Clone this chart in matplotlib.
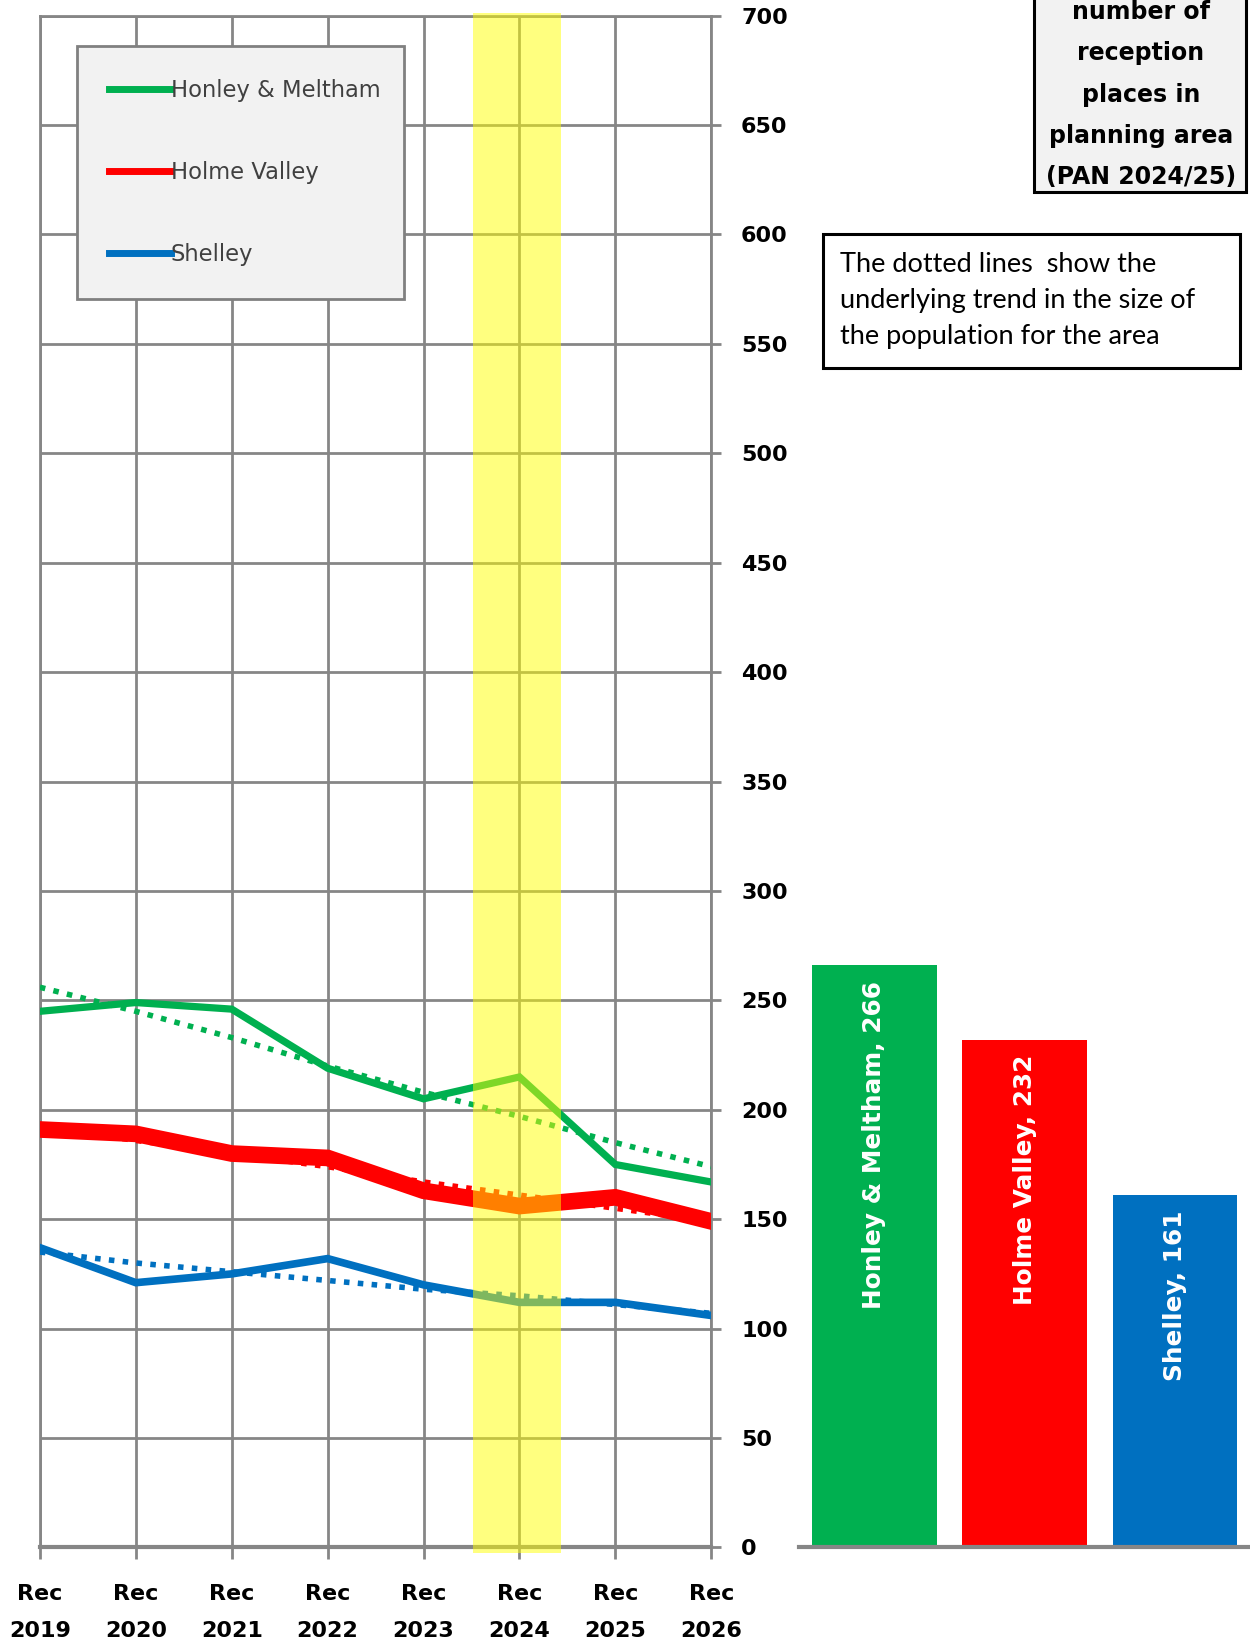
import matplotlib
matplotlib.use("Agg")
import matplotlib.pyplot as plt
from matplotlib.lines import Line2D
from matplotlib.patches import Rectangle

# data
years = ["Rec\n2019", "Rec\n2020", "Rec\n2021", "Rec\n2022",
         "Rec\n2023", "Rec\n2024", "Rec\n2025", "Rec\n2026"]
areas = ["Honley & Meltham", "Holme Valley", "Shelley"]
colors = ["#00B050", "#FF0000", "#0070C0"]

honley = [245, 249, 246, 219, 205, 215, 175, 167]
holme = [191, 189, 180, 178, 163, 156, 160, 149]
shelley = [137, 121, 125, 132, 120, 112, 112, 106]

honley_trend = [256, 245, 233, 220, 208, 197, 185, 174]
holme_trend = [192, 186, 180, 174, 167, 161, 155, 149]
shelley_trend = [135, 130, 126, 122, 118, 115, 111, 107]

pan_places = [266, 232, 161]

grid_col = "#868686"

fig = plt.figure(figsize=(12.5, 16.45), dpi=100)
ax = fig.add_axes([0.0319, 0.0593, 0.5371, 0.9312])

x = range(len(years))
series = [honley, holme, shelley]
trends = [honley_trend, holme_trend, shelley_trend]
widths = [5.2, 12, 5.5]
for vals, tr, c, w in zip(series, trends, colors, widths):
    ax.plot(x, vals, color=c, lw=w, zorder=3, solid_joinstyle="miter")
    ax.plot(x, tr, color=c, lw=4, ls=(0, (1, 1.5)), zorder=4,
            dash_capstyle="butt")

# highlighted year
ax.axvspan(4.52, 5.43, ymin=-0.0035, ymax=1.002, color="#FFFF00", alpha=0.5,
           lw=0, zorder=5, clip_on=False)

ax.set_xlim(0, 7)
ax.set_ylim(0, 700)
ax.set_xticks(list(x))
ax.set_xticklabels(years, linespacing=2.05)
ax.set_yticks(range(0, 701, 50))
ax.yaxis.tick_right()
ax.grid(True, color=grid_col, lw=2, zorder=1)
ax.set_axisbelow(True)
for s in ax.spines.values():
    s.set_color(grid_col)
    s.set_linewidth(2)
ax.spines["bottom"].set_linewidth(3)
ax.tick_params(axis="y", right=True, left=False, length=7.5, width=2,
               color=grid_col, labelsize=16, pad=14)
ax.tick_params(axis="x", length=8.6, width=2, color=grid_col,
               labelsize=16, pad=18)
for lab in ax.get_xticklabels() + ax.get_yticklabels():
    lab.set_fontweight("bold")

handles = [Line2D([], [], color=c, lw=5) for c in colors]
leg = ax.legend(handles, areas, loc="upper left",
                bbox_to_anchor=(0.0547, 0.8157, 0.4873, 0.1643),
                mode="expand", borderaxespad=0, fontsize=16.3, frameon=True,
                fancybox=False, facecolor="#F2F2F2", edgecolor="#808080",
                framealpha=1, labelspacing=2.6, handlelength=2.7,
                handletextpad=0.0, borderpad=1.45)
leg.get_frame().set_linewidth(2)
leg.set_zorder(10)
for t in leg.get_texts():
    t.set_color("#404040")

# bars: reception places per planning area
bx = fig.add_axes([0.6395, 0.0593, 0.3605, 0.9312])
bx.bar(range(3), pan_places, width=0.83, color=colors)
bx.set_xlim(-0.5, 2.5)
bx.set_ylim(0, 700)
bx.set_xticks([])
bx.set_yticks([])
for k in ["left", "right", "top"]:
    bx.spines[k].set_visible(False)
bx.spines["bottom"].set_color(grid_col)
bx.spines["bottom"].set_linewidth(3)
for i, (name, v) in enumerate(zip(areas, pan_places)):
    bx.annotate(f"{name}, {v}", (i, v), xytext=(0, -11),
                textcoords="offset points", rotation=90, ha="center",
                va="top", color="white", fontweight="bold", fontsize=17.8)

# title box (top cut off like in the source)
fig.patches.append(Rectangle((0.8272, 0.8833), 0.1696, 0.2,
                             transform=fig.transFigure, facecolor="#F2F2F2",
                             edgecolor="black", lw=2.2))
fig.text(0.9128, 0.9425,
         "number of\nreception\nplaces in\nplanning area\n(PAN 2024/25)",
         ha="center", va="center", fontsize=17, fontweight="bold",
         linespacing=1.9)

# note box
fig.patches.append(Rectangle((0.658, 0.7763), 0.334, 0.0815,
                             transform=fig.transFigure, facecolor="white",
                             edgecolor="black", lw=2.2))
fig.text(0.672, 0.8176,
         "The dotted lines  show the\nunderlying trend in the size of\n"
         "the population for the area",
         ha="left", va="center", fontsize=19.5, family="Lato",
         linespacing=1.55)

fig.savefig("out.png", dpi=100)
